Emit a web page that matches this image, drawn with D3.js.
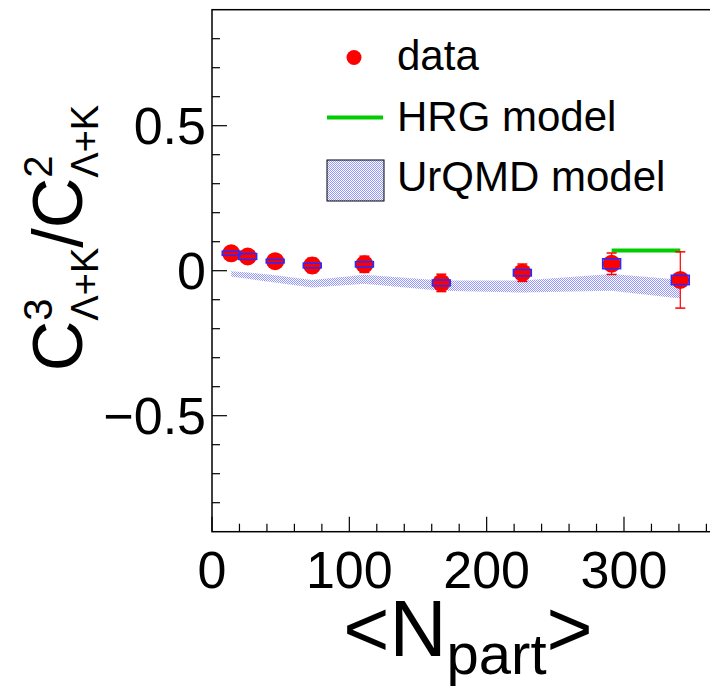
<!DOCTYPE html>
<html>
<head>
<meta charset="utf-8">
<script src="https://cdn.jsdelivr.net/npm/d3@7"></script>
<style>
  html, body { margin: 0; padding: 0; background: #fff; }
  svg { display: block; }
  text { font-family: "Liberation Sans", Arial, Helvetica, sans-serif; fill: #000; }
</style>
</head>
<body>
<svg id="chart" width="710" height="688"></svg>
<script>
// ---------------- data ----------------
const npart      = [14, 26, 46, 73, 111, 167, 226, 291, 341];
const ratio      = [0.060, 0.049, 0.033, 0.018, 0.022, -0.042, -0.007, 0.024, -0.032];
const statErr    = [0.020, 0.020, 0.020, 0.025, 0.028, 0.030, 0.030, 0.037, 0.097];
const sysErr     = [0.007, 0.010, 0.006, 0.008, 0.009, 0.010, 0.011, 0.017, 0.016];
const urqmdLow   = [-0.020, -0.028, -0.041, -0.058, -0.045, -0.069, -0.075, -0.069, -0.096];
const urqmdHigh  = [-0.002, -0.006, -0.016, -0.032, -0.014, -0.034, -0.034, -0.011, -0.031];
const hrgX       = [291, 341];
const hrgY       = [0.070, 0.070];
const xTicks     = [0, 100, 200, 300];
const yTicks     = [-0.5, 0, 0.5];
const yTickLabels = ["\u22120.5", "0", "0.5"];
const legendLabels = ["data", "HRG model", "UrQMD model"];

// ---------------- layout ----------------
const svg = d3.select("#chart");
const X0 = 212, X1 = 212 + 400 * 1.3733, Y0 = 531.7, Y1 = 9.7;
const x = d3.scaleLinear().domain([0, 400]).range([X0, X1]);
const y = d3.scaleLinear().domain([-0.9, 0.9]).range([Y0, Y1]);

svg.append("rect").attr("width", 710).attr("height", 688).attr("fill", "#fff");

// hatch pattern (ROOT-like)
const defs = svg.append("defs");
const pat = defs.append("pattern").attr("id", "hatch").attr("patternUnits", "userSpaceOnUse")
  .attr("width", 2).attr("height", 2);
pat.append("rect").attr("width", 2).attr("height", 2).attr("fill", "#ffffff");
pat.append("rect").attr("x", 0).attr("y", 0).attr("width", 1).attr("height", 1).attr("fill", "#9496ff");
pat.append("rect").attr("x", 1).attr("y", 1).attr("width", 1).attr("height", 1).attr("fill", "#9496ff");

// ---------------- frame & axes ----------------
svg.append("rect").attr("x", X0).attr("y", Y1).attr("width", X1 - X0).attr("height", Y0 - Y1)
  .attr("fill", "none").attr("stroke", "#000").attr("stroke-width", 1.5);

// x ticks (inward)
const xMinor = d3.range(0, 401, 20);
svg.append("g").selectAll("line").data(xMinor).join("line")
  .attr("x1", d => x(d)).attr("x2", d => x(d))
  .attr("y1", Y0).attr("y2", d => Y0 - (d % 100 === 0 ? 15 : 8))
  .attr("stroke", "#000").attr("stroke-width", 1.2);
svg.append("g").selectAll("text").data(xTicks).join("text")
  .attr("x", d => x(d)).attr("y", 588).attr("text-anchor", "middle")
  .attr("font-size", 52).text(d => d);

// y ticks (inward)
const yMinor = d3.range(-8, 9).map(d => d / 10);
svg.append("g").selectAll("line").data(yMinor).join("line")
  .attr("x1", X0).attr("x2", d => X0 + (Math.abs(Math.round(d * 10)) % 5 === 0 ? 15 : 8))
  .attr("y1", d => y(d)).attr("y2", d => y(d))
  .attr("stroke", "#000").attr("stroke-width", 1.2);
svg.append("g").selectAll("text").data(yTicks).join("text")
  .attr("x", 206).attr("y", d => y(d) + 18.5).attr("text-anchor", "end")
  .attr("font-size", 52).text((d, i) => yTickLabels[i]);

// ---------------- UrQMD band ----------------
const band = d3.area().x((d, i) => x(npart[i])).y0((d, i) => y(urqmdLow[i])).y1((d, i) => y(urqmdHigh[i]));
svg.append("path").datum(npart).attr("d", band).attr("fill", "url(#hatch)").attr("stroke", "none");

// ---------------- HRG ----------------
svg.append("path").datum(hrgX)
  .attr("d", d3.line().x((d) => x(d)).y((d, i) => y(hrgY[i])))
  .attr("stroke", "#00cc00").attr("stroke-width", 4).attr("fill", "none");

// ---------------- data points ----------------
const pts = npart.map((n, i) => ({ n, v: ratio[i], se: statErr[i], sy: sysErr[i] }));
const gp = svg.append("g");
gp.selectAll("line.err").data(pts).join("line").attr("class", "err")
  .attr("x1", d => x(d.n)).attr("x2", d => x(d.n))
  .attr("y1", d => y(d.v + d.se)).attr("y2", d => y(d.v - d.se))
  .attr("stroke", "#ff0000").attr("stroke-width", 1.2);
[1, -1].forEach(s => {
  gp.selectAll("line.cap" + (s > 0 ? "u" : "d")).data(pts).join("line").attr("class", "cap" + (s > 0 ? "u" : "d"))
    .attr("x1", d => x(d.n) - 5).attr("x2", d => x(d.n) + 5)
    .attr("y1", d => y(d.v + s * d.se)).attr("y2", d => y(d.v + s * d.se))
    .attr("stroke", "#ff0000").attr("stroke-width", 1.5);
});
gp.selectAll("circle").data(pts).join("circle")
  .attr("cx", d => x(d.n)).attr("cy", d => y(d.v)).attr("r", 9).attr("fill", "#ff0000");
const halfW = 6.5;
gp.selectAll("rect.sys").data(pts).join("rect").attr("class", "sys")
  .attr("x", d => x(d.n - halfW)).attr("width", d => x(d.n + halfW) - x(d.n - halfW))
  .attr("y", d => y(d.v + d.sy)).attr("height", d => y(d.v - d.sy) - y(d.v + d.sy))
  .attr("fill", "none").attr("stroke", "#2a2aff").attr("stroke-width", 1.6);

// ---------------- legend ----------------
const lg = svg.append("g");
lg.append("circle").attr("cx", 354).attr("cy", 57.5).attr("r", 7.5).attr("fill", "#ff0000");
lg.append("line").attr("x1", 327).attr("x2", 383).attr("y1", 117.5).attr("y2", 117.5)
  .attr("stroke", "#00cc00").attr("stroke-width", 4);
lg.append("rect").attr("x", 327).attr("y", 160).attr("width", 57).attr("height", 41)
  .attr("fill", "url(#hatch)").attr("stroke", "#000").attr("stroke-width", 1);
lg.selectAll("text").data(legendLabels).join("text")
  .attr("x", 397).attr("y", (d, i) => 70 + i * 60.5).attr("font-size", 42).text(d => d);

// ---------------- rich text helper ----------------
function rich(g, segs) {
  let cursor = 0, lastStart = 0;
  segs.forEach(s => {
    const start = s.overlap ? lastStart : cursor;
    const t = g.append("text").attr("x", start).attr("y", -(s.shift || 0))
      .attr("font-size", s.size).text(s.t);
    const w = t.node().getComputedTextLength();
    lastStart = start;
    cursor = Math.max(cursor, start + w);
  });
  return cursor;
}

// x title
const xt = svg.append("g");
const xw = rich(xt, [
  { t: "<N", size: 79 },
  { t: "part", size: 58, shift: -18 },
  { t: ">", size: 79 }
]);
xt.attr("transform", `translate(${468 - xw / 2},656)`);

// y title
const yt = svg.append("g");
const yw = rich(yt, [
  { t: "C", size: 70 },
  { t: "3", size: 40, shift: 30 },
  { t: "\u039B+K", size: 38, shift: -16, overlap: true },
  { t: "/", size: 70 },
  { t: "C", size: 70 },
  { t: "2", size: 40, shift: 30 },
  { t: "\u039B+K", size: 38, shift: -16, overlap: true }
]);
yt.attr("transform", `translate(82,${238 + yw / 2}) rotate(-90)`);
</script>
</body>
</html>
